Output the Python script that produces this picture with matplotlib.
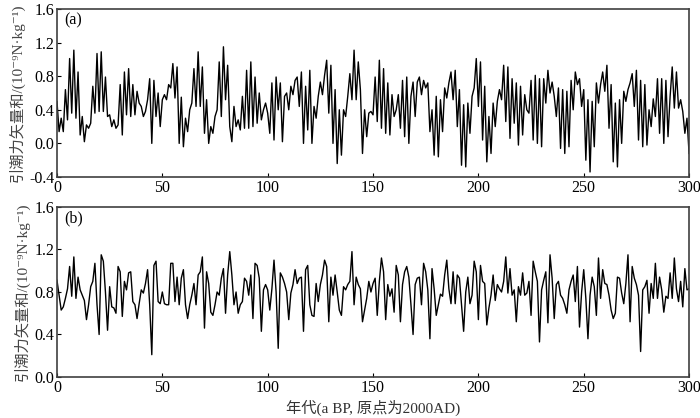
import numpy as np
import matplotlib
matplotlib.use("Agg")
import matplotlib.pyplot as plt
from matplotlib.ticker import FormatStrFormatter

# ---------------- data ----------------
tide_a = [
    0.50,0.14,0.30,0.14,0.64,0.28,1.01,0.36,1.11,0.30,0.85,0.10,0.32,0.02,0.22,0.18,0.24,0.68,0.36,1.07,
    0.38,1.09,0.38,0.79,0.32,0.34,0.20,0.28,0.18,0.22,0.70,0.10,0.85,0.34,0.89,0.32,0.70,0.34,0.62,0.48,
    0.44,0.32,0.38,0.52,0.77,0.00,0.75,0.32,0.60,0.20,0.52,0.58,0.52,0.70,0.66,0.95,0.54,0.91,
    0.00,0.55,-0.04,0.30,0.14,0.40,0.48,0.89,0.44,1.09,0.44,0.91,0.12,0.52,0.00,0.20,0.12,0.32,0.40,0.97,
    0.32,1.15,0.52,0.93,0.20,0.02,0.44,0.20,0.28,0.16,0.56,0.18,0.87,0.18,0.97,0.20,0.79,0.24,0.60,0.28,
    0.40,0.48,0.36,0.12,0.72,0.04,0.79,0.40,0.72,0.02,0.56,0.60,0.40,0.68,0.58,0.75,0.79,0.44,0.85,0.00,
    0.68,0.16,0.87,0.00,
    0.44,0.30,0.56,0.73,0.58,0.81,0.99,0.36,0.93,0.00,0.64,-0.24,0.40,-0.14,0.40,0.32,0.56,0.83,0.52,1.11,
    0.52,0.97,0.64,-0.12,0.40,0.08,0.36,0.38,0.34,0.79,0.26,0.99,0.18,0.89,0.12,0.72,0.10,0.58,0.32,0.40,
    0.58,0.18,0.75,0.08,0.79,0.00,0.56,0.73,0.32,0.73,0.79,0.58,0.75,0.66,0.72,0.14,0.40,-0.14,
    0.56,-0.16,0.52,0.14,0.66,0.54,0.72,0.85,0.52,0.87,0.20,0.64,-0.26,0.46,-0.28,0.48,0.12,0.56,0.66,1.01,
    0.44,0.97,0.04,0.68,-0.22,0.32,-0.12,0.48,0.20,0.50,0.64,0.52,0.93,0.26,0.91,0.06,0.77,0.24,0.72,-0.02,
    0.68,0.10,0.58,0.40,0.36,0.75,0.04,0.81,0.00,0.77,-0.04,0.77,0.48,0.87,0.60,0.73,0.56,0.32,0.66,-0.06,
    0.64,-0.12,
    0.62,-0.04,0.75,0.40,0.85,0.70,0.77,0.44,0.64,-0.20,0.52,-0.34,0.50,-0.04,0.72,0.48,0.70,0.85,0.62,0.93,
    0.18,0.70,-0.22,0.48,-0.28,0.52,0.00,0.62,0.50,0.64,0.72,0.83,0.44,0.87,0.04,0.75,-0.04,0.70,-0.02,0.40,
    0.20,0.53,0.32,0.77,0.12,0.77,0.00,0.75,0.08,0.56,0.91,0.42,0.85,0.42,0.52,0.38,0.12,0.30,-0.12,
]

tide_b = [
    0.91,0.77,0.63,0.66,0.74,0.83,1.04,0.76,1.13,0.74,0.94,0.82,0.77,0.72,0.54,0.68,0.85,0.90,1.07,0.68,
    0.40,1.15,1.09,0.80,0.44,0.85,0.66,0.65,0.60,1.04,0.99,0.57,0.90,0.82,0.98,0.99,0.71,0.68,0.55,0.69,
    0.82,0.79,0.88,1.01,0.68,0.21,1.05,1.09,0.71,0.69,0.80,0.69,0.68,0.68,1.07,1.07,0.71,0.94,0.68,0.93,
    1.01,0.68,0.55,
    0.68,0.77,0.88,0.68,0.96,0.99,1.13,0.46,0.99,0.88,0.61,0.58,0.68,0.80,0.77,0.93,1.02,0.60,0.96,1.18,
    0.96,0.68,0.80,0.60,0.68,0.71,0.93,0.90,0.77,0.96,0.55,1.07,1.05,0.93,0.43,0.82,0.87,0.82,0.63,0.83,
    1.10,0.80,0.27,0.98,0.94,0.88,0.80,0.54,0.79,0.87,1.01,0.88,0.93,0.94,0.43,1.01,1.05,0.68,0.58,0.57,
    0.88,0.71,0.87,0.96,1.10,1.04,0.52,0.94,0.77,0.96,0.80,0.63,0.58,0.85,0.82,0.87,0.90,1.18,0.68,0.94,
    0.87,0.83,0.52,0.63,0.74,0.90,0.80,0.88,0.93,0.58,0.90,1.12,0.99,0.54,0.87,0.76,0.83,0.61,1.05,0.96,
    0.52,0.87,0.99,1.04,0.94,0.68,0.40,0.87,0.93,0.94,0.68,1.07,0.99,0.82,0.36,1.02,0.83,0.58,
    0.68,0.78,0.76,0.96,1.10,0.83,0.69,0.99,0.69,0.96,0.93,0.68,0.43,0.80,0.94,0.69,0.77,1.09,0.99,0.54,
    1.05,0.90,0.88,0.49,0.65,0.77,0.96,0.72,0.87,0.83,0.80,0.90,1.13,0.79,1.02,0.77,0.82,0.52,0.85,0.77,
    0.98,0.77,0.79,0.90,0.58,1.09,0.99,0.90,0.33,0.82,0.91,0.99,0.51,1.15,0.93,0.55,0.87,0.90,0.77,0.74,
    0.68,0.60,0.82,0.90,0.96,0.71,1.04,0.47,0.80,1.01,0.74,0.36,0.77,0.94,0.85,0.58,1.12,0.74,1.01,0.88,
    0.87,0.77,0.63,0.55,0.60,0.94,0.93,0.79,0.69,0.88,1.15,0.52,1.04,0.93,0.87,0.77,0.24,0.82,0.85,0.91,
    0.60,0.88,0.74,1.07,0.74,0.94,0.82,0.61,0.76,0.74,0.98,0.74,1.12,0.83,0.71,0.90,0.66,1.02,0.82,0.83,
]

years_a = np.arange(len(tide_a))
years_b = np.arange(len(tide_b))

x_ticks = [0, 50, 100, 150, 200, 250, 300]
y_ticks_a = [-0.4, 0.0, 0.4, 0.8, 1.2, 1.6]
y_ticks_b = [0.0, 0.4, 0.8, 1.2, 1.6]
panel_labels = ["(a)", "(b)"]
ylabel_text = "引潮力矢量和/(10⁻⁹N·kg⁻¹)"
xlabel_text = "年代(a BP, 原点为2000AD)"

# ---------------- style ----------------
fam = ["Liberation Serif", "Noto Sans CJK SC", "DejaVu Serif"]
plt.rcParams["font.family"] = fam
plt.rcParams["axes.unicode_minus"] = False

fig = plt.figure(figsize=(7.0, 4.18), dpi=100)
ax_a = fig.add_axes([0.0814, 0.5766, 0.9030, 0.4019])
ax_b = fig.add_axes([0.0814, 0.0981, 0.9030, 0.4067])

spine_col = "#404040"
for ax, yrs, vals, yt, lab in [
    (ax_a, years_a, tide_a, y_ticks_a, panel_labels[0]),
    (ax_b, years_b, tide_b, y_ticks_b, panel_labels[1]),
]:
    ax.plot(yrs, vals, color="black", linewidth=1.0)
    ax.set_xlim(0, 300)
    ax.set_ylim(yt[0], yt[-1])
    ax.set_xticks(x_ticks)
    ax.set_yticks(yt)
    ax.yaxis.set_major_formatter(FormatStrFormatter("%.1f"))
    ax.tick_params(direction="in", length=3, width=0.8, labelsize=11.5,
                   top=False, right=False, colors="black", pad=2)
    for s in ax.spines.values():
        s.set_color(spine_col)
        s.set_linewidth(1.2)
    ax.text(0.012, 0.935, lab, transform=ax.transAxes, fontsize=11.5,
            ha="left", va="center")
    ax.set_ylabel(ylabel_text, fontsize=11, color="#444444", labelpad=3)

ax_b.set_xlabel(xlabel_text, fontsize=11, color="#333333", labelpad=3)

fig.savefig("out.png", dpi=100)
